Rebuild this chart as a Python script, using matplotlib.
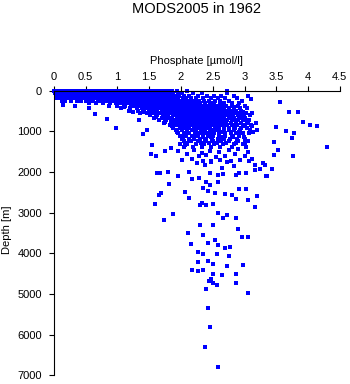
import numpy as np
import matplotlib
matplotlib.use("Agg")
from matplotlib import pyplot as plt

plt.rcParams['font.family'] = ['Liberation Sans', 'DejaVu Sans']

# upper ocean: one depth per row, phosphate values along that row
row_depths = [10, 70, 130, 190, 250, 310, 370, 430, 490, 550, 610, 670, 730, 790,
              850, 910, 975, 1040, 1110, 1180, 1250, 1320, 1390]
row_phos = [
    [0.00, 0.04, 0.09, 0.13, 0.18, 0.22, 0.27, 0.31, 0.36, 0.40, 0.45, 0.49, 0.54, 0.58, 0.63,
     0.67, 0.72, 0.76, 0.81, 0.85, 0.90, 0.94, 0.99, 1.03, 1.08, 1.12, 1.17, 1.21, 1.26, 1.30,
     1.35, 1.39, 1.44, 1.48, 1.53, 1.57, 1.62, 1.66, 1.71, 1.75, 1.80, 1.86, 1.93, 2.09],
    [0.02, 0.06, 0.11, 0.15, 0.20, 0.24, 0.29, 0.33, 0.38, 0.42, 0.47, 0.51, 0.56, 0.60, 0.65,
     0.69, 0.74, 0.78, 0.83, 0.87, 0.92, 0.96, 1.01, 1.05, 1.10, 1.14, 1.19, 1.23, 1.28, 1.32,
     1.37, 1.41, 1.46, 1.50, 1.55, 1.59, 1.64, 1.68, 1.73, 1.77, 1.82, 1.88, 1.95, 2.02, 2.19,
     2.33],
    [0.03, 0.08, 0.12, 0.17, 0.21, 0.26, 0.30, 0.35, 0.39, 0.44, 0.48, 0.53, 0.57, 0.62, 0.66,
     0.71, 0.75, 0.80, 0.84, 0.89, 0.93, 0.98, 1.02, 1.07, 1.11, 1.16, 1.20, 1.25, 1.29, 1.34,
     1.38, 1.43, 1.47, 1.52, 1.56, 1.61, 1.65, 1.70, 1.74, 1.79, 1.84, 1.90, 1.97, 2.05, 2.12,
     2.26, 2.41, 2.52, 2.63, 2.83],
    [0.05, 0.10, 0.14, 0.19, 0.23, 0.28, 0.32, 0.37, 0.41, 0.46, 0.50, 0.55, 0.59, 0.64, 0.68,
     0.73, 0.77, 0.82, 0.86, 0.91, 0.95, 1.00, 1.04, 1.09, 1.13, 1.18, 1.22, 1.27, 1.31, 1.36,
     1.40, 1.45, 1.49, 1.54, 1.58, 1.63, 1.67, 1.72, 1.76, 1.81, 1.85, 1.91, 1.96, 2.03, 2.08,
     2.16, 2.24, 2.35, 2.47, 2.58, 2.70, 2.88],
    [0.12, 0.18, 0.27, 0.36, 0.43, 0.51, 0.57, 0.62, 0.69, 0.74, 0.80, 0.85, 0.91, 0.96, 1.02,
     1.06, 1.11, 1.15, 1.20, 1.24, 1.29, 1.33, 1.38, 1.42, 1.47, 1.51, 1.56, 1.60, 1.65, 1.69,
     1.74, 1.78, 1.83, 1.87, 1.92, 1.97, 2.01, 2.06, 2.11, 2.17, 2.22, 2.29, 2.36, 2.44, 2.53,
     2.62, 2.75, 2.96],
    [0.55, 0.66, 0.78, 0.89, 0.97, 1.03, 1.08, 1.14, 1.19, 1.25, 1.30, 1.35, 1.40,
     1.45, 1.50, 1.55, 1.60, 1.64, 1.69, 1.73, 1.78, 1.82, 1.87, 1.91, 1.96, 2.00, 2.05, 2.09,
     2.14, 2.19, 2.24, 2.30, 2.37, 2.45, 2.52, 2.61, 2.68, 2.80, 2.92],
    [0.87, 1.00, 1.12, 1.21, 1.28, 1.34, 1.39, 1.44, 1.49, 1.54, 1.58, 1.63, 1.67, 1.72,
     1.76, 1.81, 1.85, 1.90, 1.94, 1.99, 2.03, 2.08, 2.12, 2.17, 2.21, 2.27, 2.32, 2.38, 2.44,
     2.50, 2.57, 2.63, 2.71, 2.80, 2.89, 3.00],
    [1.05, 1.19, 1.30, 1.38, 1.45, 1.51, 1.57, 1.62, 1.68, 1.73, 1.79, 1.84, 1.89, 1.94, 1.98,
     2.03, 2.07, 2.12, 2.16, 2.21, 2.25, 2.30, 2.35, 2.40, 2.45, 2.51, 2.56, 2.62, 2.68, 2.75,
     2.83, 2.93, 3.04],
    [1.18, 1.33, 1.42, 1.49, 1.55, 1.62, 1.70, 1.76, 1.82, 1.87, 1.92, 1.97, 2.02, 2.06,
     2.11, 2.15, 2.20, 2.24, 2.29, 2.34, 2.39, 2.44, 2.49, 2.55, 2.60, 2.66, 2.72, 2.79, 2.87,
     2.95],
    [1.36, 1.47, 1.56, 1.66, 1.74, 1.81, 1.87, 1.93, 1.98, 2.03, 2.08, 2.13, 2.17, 2.22, 2.27,
     2.32, 2.37, 2.42, 2.47, 2.52, 2.57, 2.63, 2.69, 2.76, 2.84, 2.93, 3.02, 3.12],
    [1.52, 1.63, 1.72, 1.80, 1.88, 1.94, 2.00, 2.05, 2.10, 2.15, 2.20, 2.25, 2.30,
     2.35, 2.40, 2.45, 2.50, 2.56, 2.61, 2.67, 2.74, 2.82, 2.90, 2.99, 3.08],
    [1.58, 1.70, 1.79, 1.86, 1.93, 1.99, 2.05, 2.11, 2.17, 2.22, 2.28, 2.33, 2.39, 2.44, 2.50,
     2.55, 2.61, 2.68, 2.75, 2.83, 2.91, 3.00],
    [1.66, 1.77, 1.85, 1.92, 1.98, 2.04, 2.10, 2.15, 2.21, 2.26, 2.32, 2.38, 2.43, 2.49, 2.54,
     2.60, 2.66, 2.73, 2.81, 2.89, 2.97, 3.07],
    [1.74, 1.84, 1.91, 1.97, 2.02, 2.08, 2.14, 2.19, 2.25, 2.31, 2.36, 2.42, 2.48, 2.53,
     2.59, 2.65, 2.71, 2.78, 2.86, 2.95, 3.05, 3.18],
    [1.82, 1.90, 1.97, 2.04, 2.10, 2.16, 2.22, 2.28, 2.34, 2.40, 2.46, 2.52, 2.58, 2.65,
     2.72, 2.80, 2.88, 2.97, 3.10],
    [1.88, 1.98, 2.06, 2.13, 2.20, 2.26, 2.33, 2.39, 2.46, 2.53, 2.60, 2.68, 2.76, 2.85,
     2.94, 3.04],
    [1.92, 2.01, 2.09, 2.17, 2.24, 2.31, 2.38, 2.45, 2.52, 2.59, 2.67, 2.75, 2.84, 2.93, 3.08,
     3.20],
    [1.96, 2.05, 2.13, 2.22, 2.30, 2.37, 2.44, 2.52, 2.60, 2.69, 2.78, 2.87, 2.97, 3.07],
    [1.99, 2.08, 2.17, 2.26, 2.35, 2.43, 2.51, 2.60, 2.70, 2.81, 2.92],
    [2.02, 2.12, 2.21, 2.30, 2.40, 2.49, 2.58, 2.67, 2.77, 2.88, 3.00],
    [2.04, 2.15, 2.27, 2.38, 2.50, 2.63, 2.75, 2.90, 3.06],
    [1.98, 2.10, 2.24, 2.36, 2.52, 2.66, 2.83, 2.97],
    [2.05, 2.19, 2.33, 2.47, 2.62, 2.80, 3.02],
]

# casts lying between the rows above
between_depths = [400, 520, 640, 760, 880, 1010, 1145, 1290]
between_phos = [
    [1.10, 1.31, 1.47, 1.60, 1.70, 1.84, 1.97, 2.06, 2.19, 2.29, 2.41, 2.55, 2.66, 2.84],
    [1.25, 1.40, 1.59, 1.79, 1.90, 2.09, 2.18, 2.32, 2.47, 2.58, 2.70, 2.81, 2.98],
    [1.60, 1.77, 1.96, 2.06, 2.19, 2.35, 2.44, 2.54, 2.66, 2.80, 2.95],
    [1.75, 1.90, 2.03, 2.14, 2.30, 2.42, 2.57, 2.70, 2.86, 3.04],
    [1.86, 2.00, 2.12, 2.29, 2.39, 2.56, 2.68, 2.83, 3.00, 3.12],
    [1.93, 2.09, 2.23, 2.36, 2.49, 2.64, 2.79, 2.91, 3.13],
    [2.03, 2.20, 2.34, 2.48, 2.63, 2.82, 2.99],
    [2.09, 2.31, 2.44, 2.57, 2.71, 2.86, 3.00],
]

# single casts off the main cloud in the upper 1400 m
stray_phos = [2.72, 2.72, 3.05, 3.10, 3.56, 3.70, 3.84, 3.92, 4.14, 3.49, 0.97, 3.66,
              1.47, 3.78, 1.40, 3.75, 3.46, 1.54, 4.29, 0.64, 0.83, 0.56, 0.14, 0.33,
              1.34, 4.03]
stray_depth = [10, 70, 140, 210, 283, 530, 530, 775, 870, 900, 920, 1000,
               970, 1050, 1070, 1170, 1270, 1340, 1390, 580, 700, 430, 360, 380,
               720, 850]

# intermediate water, 1400-2300 m
mid_phos = [1.53, 1.60, 1.75, 1.84, 1.95, 2.07, 2.20, 2.33, 2.46, 2.60, 2.75, 2.90, 3.05,
            2.10, 2.28, 2.40, 2.55, 2.70, 2.85, 3.00, 3.52, 3.46, 3.77, 2.02, 2.18, 2.35,
            2.48, 2.62, 2.78, 2.93, 3.12, 2.25, 2.38, 2.48, 2.64, 2.73, 2.84, 3.07, 3.16,
            3.29, 3.43, 3.33, 3.17, 1.62, 1.67, 1.79, 1.95, 2.18, 2.28, 2.45, 2.58, 2.66,
            2.86, 2.92, 3.03, 1.81, 2.40, 2.58, 2.12, 3.32, 3.24, 3.35]
mid_depth = [1550, 1610, 1480, 1400, 1480, 1330, 1450, 1530, 1480, 1500, 1460, 1430, 1520,
             1560, 1620, 1580, 1640, 1600, 1560, 1620, 1460, 1590, 1610, 1700, 1690, 1720,
             1760, 1700, 1740, 1700, 1680, 1780, 1830, 1730, 1900, 1760, 1860, 1730, 1830,
             1780, 1930, 2100, 1960, 2030, 2030, 2010, 2100, 2180, 2150, 2030, 2080, 2060,
             2080, 2030, 2030, 2300, 2250, 2250, 1990, 1830, 1930, 2100]

# deep water below 2300 m
deep_phos = [2.06, 1.68, 1.65, 1.59, 1.87, 1.73, 2.12, 2.33, 2.45, 2.58, 2.35, 2.42, 2.53,
             2.69, 2.81, 2.87, 2.92, 3.03, 3.05, 3.16, 3.20, 2.30, 2.40, 2.50, 2.59, 2.66,
             2.73, 2.87, 2.50, 2.30, 2.11, 2.35, 2.53, 2.58, 2.42, 2.16, 2.89, 2.96, 3.05,
             2.77, 2.69, 2.26, 2.35, 2.57, 2.75, 2.42, 2.27, 2.42, 2.51, 2.72, 2.97, 2.17,
             2.27, 2.35, 2.51, 2.64, 2.86, 2.44, 2.47, 2.51, 2.56, 2.86, 2.39, 3.05, 2.42,
             2.45, 2.37, 2.58]
deep_depth = [2500, 2520, 2560, 2790, 3040, 3190, 2640, 2770, 2330, 2250, 2400, 2480, 2520,
              2550, 2580, 2670, 2420, 2420, 2700, 2870, 2600, 2810, 2810, 2790, 3000, 3140,
              3060, 3140, 3310, 3310, 3510, 3560, 3680, 3790, 3740, 3770, 3400, 3600, 3600,
              3850, 3880, 3980, 4010, 4030, 4080, 4180, 4220, 4190, 4270, 4320, 4290, 4420,
              4440, 4420, 4510, 4540, 4510, 4690, 4640, 4740, 4780, 4740, 4880, 4980, 5350,
              5820, 6310, 6800]

phos, depth = [], []
for depths, rows in [(row_depths, row_phos), (between_depths, between_phos)]:
    for d, row in zip(depths, rows):
        phos += row
        depth += [d] * len(row)
phos = np.array(phos + stray_phos + mid_phos + deep_phos)
depth = np.array(depth + stray_depth + mid_depth + deep_depth)

fig = plt.figure(figsize=(3.5, 3.84), dpi=100)
ax = fig.add_axes([0.154, 0.023, 0.817, 0.741])

# crisp square markers, about 3 px
ax.plot(phos, depth, 's', color='#0000ff', ms=2.6, mew=0, clip_on=False,
        antialiased=False)

ax.set_xlim(0, 4.5)
ax.set_ylim(7000, 0)
ax.set_xticks(np.arange(0, 4.51, 0.5))
ax.set_xticklabels(['0', '0.5', '1', '1.5', '2', '2.5', '3', '3.5', '4', '4.5'])
ax.set_yticks(np.arange(0, 7001, 1000))

ax.xaxis.tick_top()
ax.xaxis.set_label_position('top')
ax.spines['right'].set_visible(False)
ax.spines['bottom'].set_visible(False)
for s in ['top', 'left']:
    ax.spines[s].set_linewidth(0.8)
ax.tick_params(axis='both', direction='out', length=3.5, width=0.8, labelsize=8, pad=2.5)
ax.tick_params(axis='y', pad=5)

ax.set_xlabel('Phosphate [µmol/l]', fontsize=8, labelpad=6)
ax.set_ylabel('Depth [m]', fontsize=8)
ax.yaxis.set_label_coords(-0.148, 0.51)

fig.text(0.561, 0.996, 'MODS2005 in 1962', ha='center', va='top', fontsize=10.5)

fig.savefig('out.png', dpi=100)
